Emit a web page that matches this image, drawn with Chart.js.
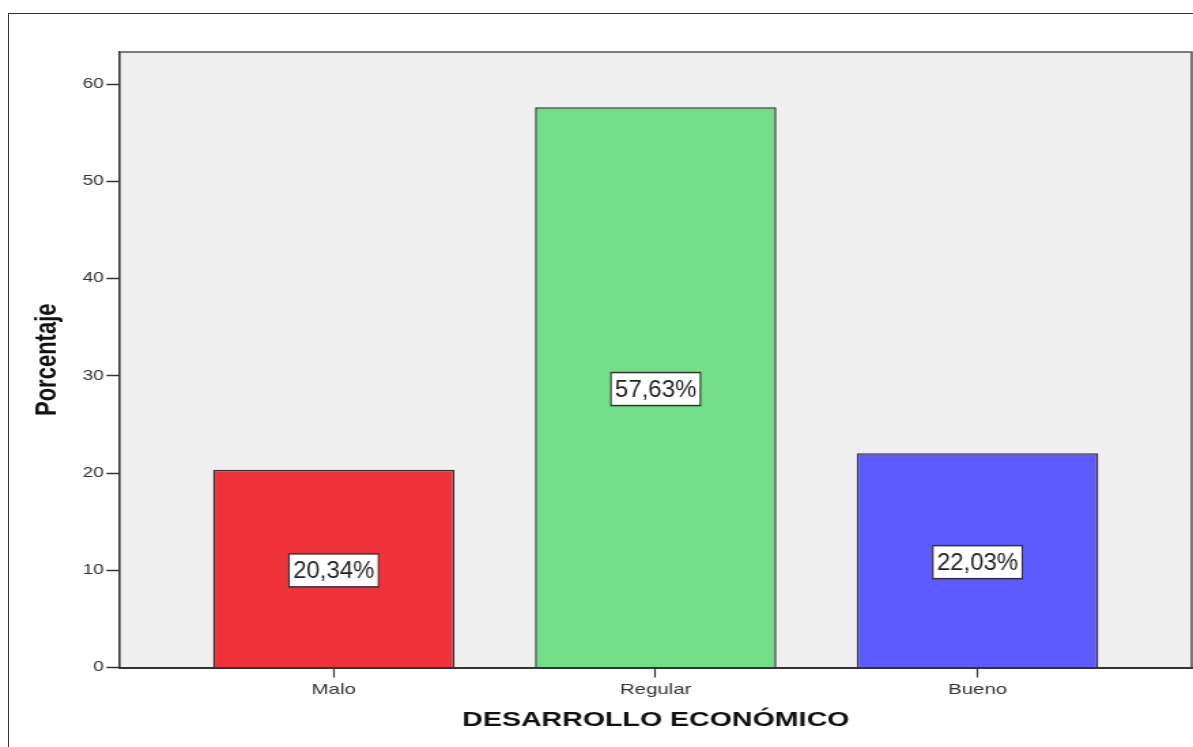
<!DOCTYPE html>
<html>
<head>
<meta charset="utf-8">
<title>Desarrollo económico</title>
<script src="https://cdn.jsdelivr.net/npm/chart.js@4.4.1/dist/chart.umd.min.js"></script>
<style>
  html, body { margin: 0; padding: 0; background: #fff; overflow: hidden; }
  #frame { position: absolute; left: 8px; top: 13px; right: -2px; bottom: -2px;
           border-left: 1px solid #333; border-top: 1px solid #333; }
  /* the reference picture is stretched sideways, so the chart is drawn narrower and scaled */
  #wrap { position: absolute; left: 0; top: 0; width: 877px; height: 747px;
          transform: scaleX(1.36032); transform-origin: 0 0; }
</style>
</head>
<body>
<div id="frame"></div>
<div id="wrap"><canvas id="chart"></canvas></div>
<script>
const categories = ['Malo', 'Regular', 'Bueno'];
const porcentajes = [20.34, 57.63, 22.03];
const yTicks = [0, 10, 20, 30, 40, 50, 60];
const barColors = ['#ef3139', '#72de88', '#5b5bff'];

const stretch = 1193 / 877;
const FONT = "'Liberation Sans', Arial, sans-serif";

// grey plot background + top/right frame
const plotBackground = {
    id: 'plotBackground',
    beforeDraw(chart) {
        const a = chart.chartArea, ctx = chart.ctx;
        ctx.save();
        ctx.fillStyle = '#efefef';
        ctx.fillRect(a.left, a.top, a.right - a.left, a.bottom - a.top);
        ctx.restore();
    },
    afterDraw(chart) {
        const a = chart.chartArea, ctx = chart.ctx;
        ctx.save();
        ctx.strokeStyle = '#555';
        ctx.lineWidth = 1.6;
        ctx.beginPath();
        ctx.moveTo(a.left, a.top);
        ctx.lineTo(a.right, a.top);
        ctx.lineTo(a.right, a.bottom);
        ctx.stroke();
        ctx.restore();
    }
};

// boxed percentage in the middle of each bar
const valueLabels = {
    id: 'valueLabels',
    afterDatasetsDraw(chart) {
        const ctx = chart.ctx;
        chart.getDatasetMeta(0).data.forEach((bar, i) => {
            const text = porcentajes[i].toFixed(2).replace('.', ',') + '%';
            const cy = (bar.y + bar.base) / 2 + 2;
            ctx.save();
            ctx.translate(bar.x, cy);
            ctx.scale(1 / stretch, 1);
            ctx.font = '24px ' + FONT;
            const w = ctx.measureText(text).width + 8, h = 33;
            ctx.fillStyle = '#fff';
            ctx.fillRect(-w / 2, -h / 2, w, h);
            ctx.strokeStyle = '#333';
            ctx.lineWidth = 1.5;
            ctx.strokeRect(-w / 2, -h / 2, w, h);
            ctx.fillStyle = '#222';
            ctx.textAlign = 'center';
            ctx.textBaseline = 'middle';
            ctx.fillText(text, 0, 1);
            ctx.restore();
        });
    }
};

new Chart(document.getElementById('chart'), {
    type: 'bar',
    data: {
        datasets: [{
            data: porcentajes.map((v, i) => ({ x: i, y: v })),
            backgroundColor: barColors,
            borderColor: '#333',
            borderWidth: 1.5,
            categoryPercentage: 1,
            barPercentage: 0.75
        }]
    },
    options: {
        responsive: true,
        maintainAspectRatio: false,
        animation: false,
        layout: { padding: { top: 52, right: 1, left: 0, bottom: 0 } },
        plugins: {
            legend: { display: false },
            tooltip: { enabled: false }
        },
        scales: {
            x: {
                type: 'linear',
                min: -0.664,
                max: 2.665,
                offset: false,
                afterBuildTicks: s => { s.ticks = categories.map((c, i) => ({ value: i })); },
                afterFit: s => { s.height = 79.5; },
                ticks: {
                    callback: v => categories[v],
                    color: '#333',
                    font: { family: FONT, size: 15 },
                    padding: 3,
                    maxRotation: 0,
                    autoSkip: false
                },
                grid: { drawOnChartArea: false, offset: false, tickLength: 10, color: '#333', tickWidth: 1.2 },
                border: { color: '#333', width: 2 },
                title: {
                    display: true,
                    text: 'DESARROLLO ECONÓMICO',
                    color: '#111',
                    font: { family: FONT, size: 21, weight: 'bold' },
                    padding: { top: 0, bottom: 14 }
                }
            },
            y: {
                min: 0,
                max: 63.3,
                afterBuildTicks: s => { s.ticks = yTicks.map(v => ({ value: v })); },
                afterFit: s => { s.width = 120 / stretch; },
                ticks: {
                    color: '#333',
                    font: { family: FONT, size: 14 },
                    padding: 2
                },
                grid: { drawOnChartArea: false, tickLength: 10, color: '#333', tickWidth: 1.5 },
                border: { color: '#333', width: 1.6 },
                title: {
                    display: true,
                    text: 'Porcentaje',
                    color: '#111',
                    font: { family: FONT, size: 22, weight: 'bold' },
                    padding: { top: 22, bottom: 0 }
                }
            }
        }
    },
    plugins: [plotBackground, valueLabels]
});
</script>
</body>
</html>
